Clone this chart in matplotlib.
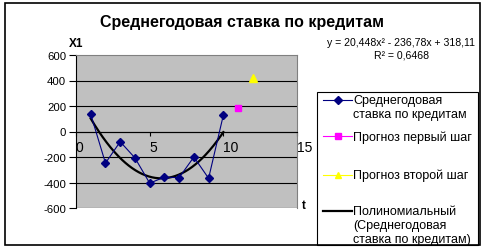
import numpy as np
import matplotlib.pyplot as plt
from matplotlib.lines import Line2D
from matplotlib.patches import Rectangle

W, H = 487, 251

# --- data ---
t_obs = [1, 2, 3, 4, 5, 6, 7, 8, 9, 10]
x1_obs = [135, -248, -80, -207, -405, -358, -362, -200, -367, 128]
t_step1 = [11]
x1_step1 = [186]
t_step2 = [12]
x1_step2 = [416]
# trend polynomial as printed on the chart
trend_coef = [20.448, -236.78, 318.11]
eq_text = "y = 20,448x² - 236,78x + 318,11"
r2_text = "R² = 0,6468"

title = "Среднегодовая ставка по кредитам"
legend_labels = [
    "Среднегодовая\nставка по кредитам",
    "Прогноз первый шаг",
    "Прогноз второй шаг",
    "Полиномиальный\n(Среднегодовая\nставка по кредитам)",
]
yticks = [-600, -400, -200, 0, 200, 400, 600]
xticks = [0, 5, 10, 15]

NAVY = "#000080"
MAG = "#FF00FF"
YEL = "#FFFF00"
GREY_BG = "#C0C0C0"

plt.rcParams["font.family"] = ["Liberation Sans", "DejaVu Sans"]


def fx(x):
    return x / W


def fy(y):
    return 1 - y / H


fig = plt.figure(figsize=(W / 100, H / 100), dpi=100)

# outer chart frame
fig.patches.append(Rectangle((fx(5), fy(246)), fx(475), (246 - 4) / H,
                             transform=fig.transFigure, fill=False,
                             edgecolor="black", lw=1.2))

ax = fig.add_axes([fx(76), fy(209), fx(297 - 76), (209 - 56) / H])
ax.set_facecolor(GREY_BG)
ax.set_xlim(0, 15)
ax.set_ylim(-600, 600)
ax.set_yticks(yticks)
ax.set_xticks(xticks)
ax.set_yticklabels([str(v) for v in yticks], fontsize=8.2)
ax.set_xticklabels([str(v) for v in xticks], fontsize=8.2)
for v in yticks[:-1]:
    ax.axhline(v, color="black", lw=0.8, zorder=1)

ax.spines["bottom"].set_position(("data", 0))
ax.spines["bottom"].set_linewidth(0.8)
ax.spines["left"].set_linewidth(0.8)
for s in ("top", "right"):
    ax.spines[s].set_color("#808080")
    ax.spines[s].set_linewidth(0.8)
ax.tick_params(axis="y", direction="out", length=5, width=0.8, pad=2)
ax.tick_params(axis="x", direction="out", length=3, width=0.8, pad=3)
for lab in ax.get_xticklabels():
    lab.set_horizontalalignment("left")

# series
ax.plot(t_obs, x1_obs, color=NAVY, lw=0.8, marker="D", ms=3.6, zorder=4)
ax.plot(t_step1, x1_step1, color=MAG, ls="none", marker="s", ms=5, zorder=4)
ax.plot(t_step2, x1_step2, color=YEL, ls="none", marker="^", ms=6, zorder=4)
tt = np.linspace(t_obs[0], t_obs[-1], 200)
ax.plot(tt, np.polyval(trend_coef, tt), color="black", lw=1.6, zorder=3)

# titles and axis names
fig.text(fx(242), fy(23), title, ha="center", va="center",
         fontsize=11.5, fontweight="bold")
fig.text(fx(76), fy(44), "X1", ha="center", va="center",
         fontsize=8.5, fontweight="bold")
fig.text(fx(304), fy(206), "t", ha="center", va="center",
         fontsize=8.5, fontweight="bold")
fig.text(fx(401), fy(43), eq_text, ha="center", va="center", fontsize=7.6)
fig.text(fx(402), fy(55), r2_text, ha="center", va="center", fontsize=7.6)

# legend drawn by hand to match Excel spacing
fig.patches.append(Rectangle((fx(317), fy(246)), fx(478 - 317), (246 - 93) / H,
                             transform=fig.transFigure, fill=False,
                             edgecolor="black", lw=0.8))
handles = [
    dict(color=NAVY, marker="D", ms=3.6, lw=0.8),
    dict(color=MAG, marker="s", ms=4, lw=0.8),
    dict(color=YEL, marker="^", ms=5, lw=0.8),
    dict(color="black", marker=None, ms=0, lw=1.6),
]
line_y = [101, 137, 176, 212]
for lab, hd, ly in zip(legend_labels, handles, line_y):
    fig.lines.append(Line2D([fx(323), fx(352)], [fy(ly), fy(ly)],
                            transform=fig.transFigure, color=hd["color"],
                            lw=hd["lw"]))
    if hd["marker"]:
        fig.lines.append(Line2D([fx(338)], [fy(ly)], transform=fig.transFigure,
                                color=hd["color"], marker=hd["marker"],
                                ms=hd["ms"], ls="none"))
    fig.text(fx(353), fy(ly - 6), lab, ha="left", va="top",
             fontsize=9, linespacing=1.25)

fig.savefig("out.png", dpi=100, facecolor="white")
